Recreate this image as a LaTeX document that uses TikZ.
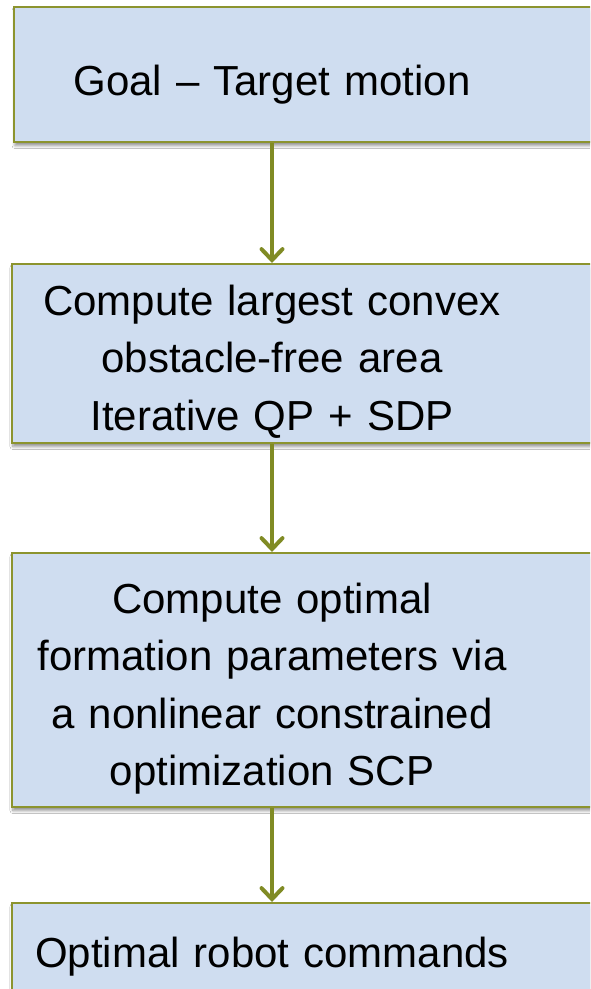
\documentclass[tikz,border=0pt]{standalone}
\usepackage{fontspec}
\setmainfont{Liberation Sans}
\usetikzlibrary{arrows.meta,shadows.blur}

\definecolor{boxfill}{RGB}{207,221,240}
\definecolor{boxline}{RGB}{140,148,46}
\definecolor{arrowc}{RGB}{128,139,36}

\tikzset{
  stagebox/.style={draw=boxline, line width=2pt, fill=boxfill, rectangle,
    inner sep=0pt,
    blur shadow={shadow xshift=1pt, shadow yshift=-3.5pt,
      shadow blur radius=3pt, shadow blur steps=6, shadow opacity=45}},
  stagetext/.style={anchor=base, text width=580pt, align=center, inner sep=0pt,
    font=\fontsize{42}{57.5}\selectfont},
  flow/.style={draw=arrowc, line width=4pt,
    -{Straight Barb[length=11pt, width=21pt, line cap=round]}}
}

\begin{document}
\begin{tikzpicture}[x=1pt, y=-1pt]
  \clip (0,0) rectangle (590,989);
  \fill[white] (0,0) rectangle (590,989);

  % boxes (they run past the right edge of the page)
  \node[stagebox, minimum width=586pt, minimum height=135pt] (b1) at (307,74.5) {};
  \node[stagebox, minimum width=588pt, minimum height=179pt] (b2) at (306,353.5) {};
  \node[stagebox, minimum width=588pt, minimum height=254pt] (b3) at (306,680) {};
  \node[stagebox, minimum width=588pt, minimum height=157pt] (b4) at (306,981.5) {};

  % texts
  \node[stagetext] (t1) at (272,95) {Goal – Target motion};
  \node[stagetext] (t2) at (272,315) {Compute largest convex\\obstacle-free area\\Iterative QP + SDP};
  \node[stagetext] (t3) at (272,613) {Compute optimal\\formation parameters via\\a nonlinear constrained\\optimization SCP};
  \node[stagetext] (t4) at (272,967) {Optimal robot commands};

  % connectors
  \draw[flow] (t1.base |- b1.south) -- (t1.base |- b2.north);
  \draw[flow] (t2.base |- b2.south) -- (t2.base |- b3.north);
  \draw[flow] (t3.base |- b3.south) -- (t3.base |- b4.north);
\end{tikzpicture}
\end{document}
